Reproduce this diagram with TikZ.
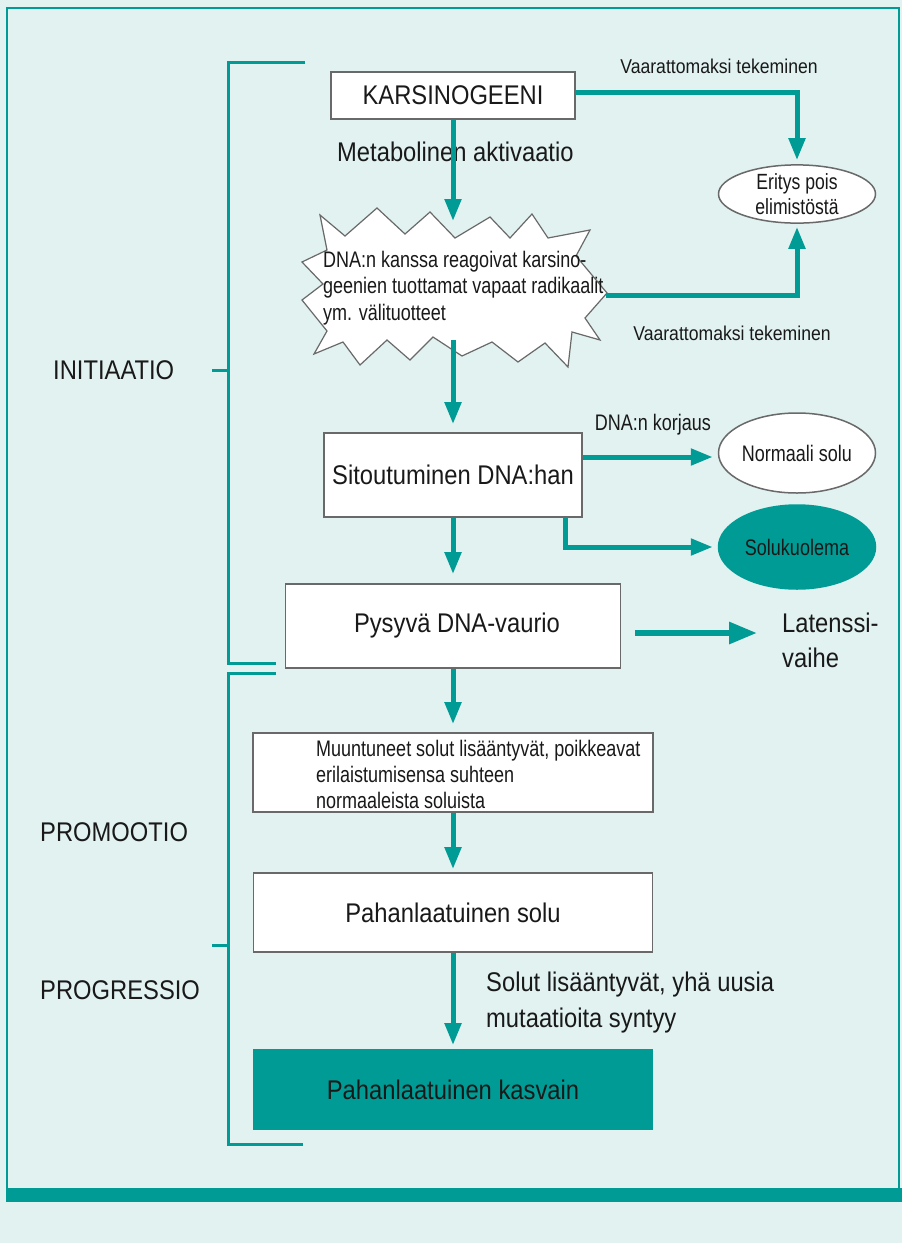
\documentclass[tikz,border=0pt]{standalone}
\usepackage{fontspec}
\setmainfont{Liberation Sans}[FakeStretch=0.88]
\newfontfamily\narrowf{Liberation Sans}[FakeStretch=0.8]
\usetikzlibrary{arrows.meta,shapes.geometric}
\definecolor{tealc}{RGB}{0,155,148}
\definecolor{bgc}{RGB}{225,242,241}
\definecolor{edgec}{RGB}{105,105,105}
\definecolor{txt}{RGB}{25,25,25}
\begin{document}
\begin{tikzpicture}[x=1pt,y=-1pt,
  every node/.style={inner sep=0pt, text=txt},
  box/.style={rectangle, draw=edgec, line width=1.8pt, fill=white},
  big/.style={font=\fontsize{27}{35}\selectfont},
  mid/.style={font=\fontsize{20}{25}\selectfont},
  small/.style={font=\narrowf\fontsize{22.5}{26.5}\selectfont},
  oval/.style={ellipse, draw=edgec, line width=1.5pt, fill=white},
  arr/.style={draw=tealc, line width=5pt, -{Triangle[length=22pt,width=16pt]}},
  bigarr/.style={draw=tealc, line width=6pt, -{Triangle[length=28pt,width=21pt]}},
  brk/.style={draw=tealc, line width=3pt}]
\fill[bgc] (0,0) rectangle (902,1243);
\useasboundingbox (0,0) rectangle (902,1243);
% frame and band
\draw[tealc, line width=2pt] (7,1188) -- (7,8) -- (899,8) -- (899,1188);
\fill[tealc] (6,1188) rectangle (902,1202);

% brackets
\draw[brk] (305,62) -- (228,62) -- (228,663) -- (276,663);
\draw[brk] (276,673) -- (228,673) -- (228,1144) -- (303,1144);
\draw[brk] (212,370) -- (228,370);
\draw[brk] (212,945) -- (228,945);

% star burst
\filldraw[fill=white, draw=edgec, line width=1.2pt]
  (320,215) -- (345,236) -- (377,208) -- (405,234) -- (430,212) -- (455,238)
  -- (490,217) -- (510,238) -- (532,214) -- (548,238) -- (590,230)
  -- (576,256) -- (607,293) -- (585,318) -- (600,340) -- (572,332)
  -- (568,367) -- (545,343) -- (518,362) -- (492,342) -- (462,356)
  -- (433,337) -- (410,360) -- (387,340) -- (360,365) -- (343,342)
  -- (314,354) -- (327,331) -- (302,300) -- (323,284) -- (302,262)
  -- (327,250) -- cycle;

% nodes
\node[box, big, minimum width=244pt, minimum height=47pt] (karsino) at (453,95.5) {KARSINOGEENI};
\node[big, anchor=west] (metab) at (337,152) {Metabolinen aktivaatio};
\node[mid] (vt1) at (719,66) {Vaarattomaksi tekeminen};
\node[oval, minimum width=157pt, minimum height=57pt, align=center,
      font=\narrowf\fontsize{22}{25}\selectfont] (eritys) at (797,194) {Eritys pois\\elimistöstä};
\node[small, anchor=west, align=left] (startext) at (323,288)
  {DNA:n kanssa reagoivat karsino-\\geenien tuottamat vapaat radikaalit\\ym. välituotteet};
\node[mid] (vt2) at (732,333) {Vaarattomaksi tekeminen};
\node[big, anchor=west] (init) at (53,370) {INITIAATIO};
\node[small] (korj) at (653,425) {DNA:n korjaus};
\node[box, big, minimum width=258pt, minimum height=84pt] (sitou) at (453,475) {Sitoutuminen DNA:han};
\node[oval, small, minimum width=157pt, minimum height=80pt] (normaali) at (797,453) {Normaali solu};
\node[oval, small, draw=tealc, fill=tealc, minimum width=157pt, minimum height=84pt] (solu) at (797,547) {Solukuolema};
\node[box, big, minimum width=335pt, minimum height=84pt] (pysyva) at (453,626) {\hspace{8pt}Pysyvä DNA-vaurio};
\node[big, anchor=west, align=left] (lat) at (782,640) {Latenssi-\\vaihe};
\node[box, minimum width=400pt, minimum height=79pt] (muunt) at (453,772.5) {};
\node[small, anchor=west, align=left, font=\narrowf\fontsize{22.5}{26}\selectfont] (muunttext) at (316,774)
  {Muuntuneet solut lisääntyvät, poikkeavat\\erilaistumisensa suhteen\\normaaleista soluista};
\node[big, anchor=west] (promo) at (40,832) {PROMOOTIO};
\node[box, big, minimum width=399pt, minimum height=79pt] (pahsolu) at (453,912.5) {Pahanlaatuinen solu};
\node[big, anchor=west] (progr) at (40,990) {PROGRESSIO};
\node[big, anchor=west, align=left, font=\fontsize{27}{36}\selectfont] (solut) at (486,1003)
  {Solut lisääntyvät, yhä uusia\\mutaatioita syntyy};
\node[box, draw=tealc, fill=tealc, big, minimum width=399pt, minimum height=79pt] (kasvain) at (453,1089.5) {Pahanlaatuinen kasvain};

% connector coordinates
\coordinate (starTop) at (453,221);
\coordinate (kOut) at (575,92);
\coordinate (sOut) at (606,295);
\coordinate (sBot) at (453,340);
\coordinate (sitR) at (583,457);
\coordinate (sitB) at (565,517);
\coordinate (pOut) at (635,633);

% connectors
\draw[arr] (karsino.south) -- (starTop);
\draw[arr, shorten >=4pt] (kOut) -| (eritys.north);
\draw[arr, shorten >=3pt] (sOut) -| (eritys.south);
\draw[arr, shorten >=8pt] (sBot) -- (sitou.north);
\draw[arr, shorten >=5pt] (sitR) -- (sitR -| normaali.west);
\draw[arr, shorten >=5pt] (sitB) |- (solu.west);
\draw[arr, shorten >=9pt] (sitou.south) -- (pysyva.north);
\draw[bigarr, shorten >=25pt] (pOut) -- (pOut -| lat.west);
\draw[arr, shorten >=8pt] (pysyva.south) -- (muunt.north);
\draw[arr, shorten >=3pt] (muunt.south) -- (pahsolu.north);
\draw[arr, shorten >=4pt] (pahsolu.south) -- (kasvain.north);
\end{tikzpicture}
\end{document}
